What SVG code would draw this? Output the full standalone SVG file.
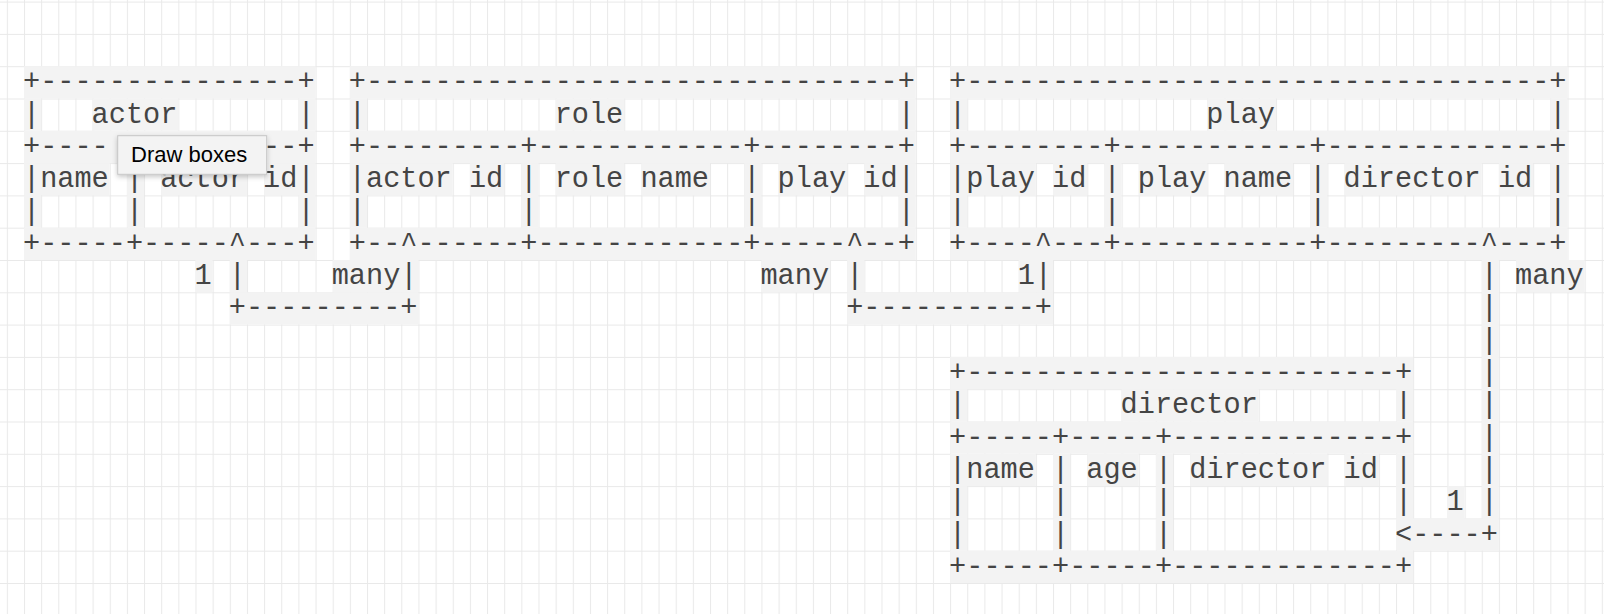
<svg xmlns="http://www.w3.org/2000/svg" width="1604" height="614" viewBox="0 0 1604 614">
<style>
.t{font-family:"Liberation Mono","Courier New",monospace;font-size:28.58px;fill:#444;white-space:pre}
.c{fill:#f3f3f3}
.tip{font-family:"Liberation Sans",Arial,sans-serif;font-size:22px;fill:#000}
</style>
<defs>
<pattern id="grid" patternUnits="userSpaceOnUse" x="24" y="66.2" width="17.15" height="32.3">
<path d="M0.5 0V32.3M0 0.5H17.15" stroke="#e9e9e9" stroke-width="1" fill="none"/>
</pattern>
<filter id="sh" x="-20%" y="-30%" width="140%" height="170%">
<feDropShadow dx="0" dy="2" stdDeviation="2.5" flood-color="#000" flood-opacity="0.22"/>
</filter>
</defs>
<rect width="1604" height="614" fill="#fff"/>
<rect width="1604" height="614" fill="url(#grid)"/>

<g id="actor">
<g class="c" transform="translate(24 66.2) scale(17.15 32.3)">
<rect x="0" y="0" width="17" height="1"/>
<rect x="0" y="1" width="1" height="1"/><rect x="4" y="1" width="5" height="1"/><rect x="16" y="1" width="1" height="1"/>
<rect x="0" y="2" width="17" height="1"/>
<rect x="0" y="3" width="5" height="1"/><rect x="6" y="3" width="1" height="1"/><rect x="8" y="3" width="5" height="1"/><rect x="14" y="3" width="3" height="1"/>
<rect x="0" y="4" width="1" height="1"/><rect x="6" y="4" width="1" height="1"/><rect x="16" y="4" width="1" height="1"/>
<rect x="0" y="5" width="17" height="1"/>
</g>
<text class="t" x="23" y="90.35" xml:space="preserve">+---------------+</text>
<text class="t" x="23" y="122.65" xml:space="preserve">|   actor       |</text>
<text class="t" x="23" y="154.95" xml:space="preserve">+----</text>
<text class="t" x="263.1" y="154.95" xml:space="preserve">--+</text>
<text class="t" x="23" y="187.25" xml:space="preserve">|name | actor id|</text>
<text class="t" x="23" y="219.55" xml:space="preserve">|     |         |</text>
<text class="t" x="23" y="251.85" xml:space="preserve">+-----+-----^---+</text>
</g>

<g id="role">
<g class="c" transform="translate(24 66.2) scale(17.15 32.3)">
<rect x="19" y="0" width="33" height="1"/>
<rect x="19" y="1" width="1" height="1"/><rect x="31" y="1" width="4" height="1"/><rect x="51" y="1" width="1" height="1"/>
<rect x="19" y="2" width="33" height="1"/>
<rect x="19" y="3" width="6" height="1"/><rect x="26" y="3" width="2" height="1"/><rect x="29" y="3" width="1" height="1"/><rect x="31" y="3" width="4" height="1"/><rect x="36" y="3" width="4" height="1"/><rect x="42" y="3" width="1" height="1"/><rect x="44" y="3" width="4" height="1"/><rect x="49" y="3" width="3" height="1"/>
<rect x="19" y="4" width="1" height="1"/><rect x="29" y="4" width="1" height="1"/><rect x="42" y="4" width="1" height="1"/><rect x="51" y="4" width="1" height="1"/>
<rect x="19" y="5" width="33" height="1"/>
</g>
<text class="t" x="348.85" y="90.35" xml:space="preserve">+-------------------------------+</text>
<text class="t" x="348.85" y="122.65" xml:space="preserve">|           role                |</text>
<text class="t" x="348.85" y="154.95" xml:space="preserve">+---------+------------+--------+</text>
<text class="t" x="348.85" y="187.25" xml:space="preserve">|actor id | role name  | play id|</text>
<text class="t" x="348.85" y="219.55" xml:space="preserve">|         |            |        |</text>
<text class="t" x="348.85" y="251.85" xml:space="preserve">+--^------+------------+-----^--+</text>
</g>

<g id="play">
<g class="c" transform="translate(24 66.2) scale(17.15 32.3)">
<rect x="54" y="0" width="36" height="1"/>
<rect x="54" y="1" width="1" height="1"/><rect x="69" y="1" width="4" height="1"/><rect x="89" y="1" width="1" height="1"/>
<rect x="54" y="2" width="36" height="1"/>
<rect x="54" y="3" width="5" height="1"/><rect x="60" y="3" width="2" height="1"/><rect x="63" y="3" width="1" height="1"/><rect x="65" y="3" width="4" height="1"/><rect x="70" y="3" width="4" height="1"/><rect x="75" y="3" width="1" height="1"/><rect x="77" y="3" width="8" height="1"/><rect x="86" y="3" width="2" height="1"/><rect x="89" y="3" width="1" height="1"/>
<rect x="54" y="4" width="1" height="1"/><rect x="63" y="4" width="1" height="1"/><rect x="75" y="4" width="1" height="1"/><rect x="89" y="4" width="1" height="1"/>
<rect x="54" y="5" width="36" height="1"/>
</g>
<text class="t" x="949.1" y="90.35" xml:space="preserve">+----------------------------------+</text>
<text class="t" x="949.1" y="122.65" xml:space="preserve">|              play                |</text>
<text class="t" x="949.1" y="154.95" xml:space="preserve">+--------+-----------+-------------+</text>
<text class="t" x="949.1" y="187.25" xml:space="preserve">|play id | play name | director id |</text>
<text class="t" x="949.1" y="219.55" xml:space="preserve">|        |           |             |</text>
<text class="t" x="949.1" y="251.85" xml:space="preserve">+----^---+-----------+---------^---+</text>
</g>

<g id="director">
<g class="c" transform="translate(24 66.2) scale(17.15 32.3)">
<rect x="54" y="9" width="27" height="1"/>
<rect x="54" y="10" width="1" height="1"/><rect x="64" y="10" width="8" height="1"/><rect x="80" y="10" width="1" height="1"/>
<rect x="54" y="11" width="27" height="1"/>
<rect x="54" y="12" width="5" height="1"/><rect x="60" y="12" width="1" height="1"/><rect x="62" y="12" width="3" height="1"/><rect x="66" y="12" width="1" height="1"/><rect x="68" y="12" width="8" height="1"/><rect x="77" y="12" width="2" height="1"/><rect x="80" y="12" width="1" height="1"/>
<rect x="54" y="13" width="1" height="1"/><rect x="60" y="13" width="1" height="1"/><rect x="66" y="13" width="1" height="1"/><rect x="80" y="13" width="1" height="1"/>
<rect x="54" y="14" width="1" height="1"/><rect x="60" y="14" width="1" height="1"/><rect x="66" y="14" width="1" height="1"/>
<rect x="54" y="15" width="27" height="1"/>
</g>
<text class="t" x="949.1" y="381.05" xml:space="preserve">+-------------------------+</text>
<text class="t" x="949.1" y="413.35" xml:space="preserve">|         director        |</text>
<text class="t" x="949.1" y="445.65" xml:space="preserve">+-----+-----+-------------+</text>
<text class="t" x="949.1" y="477.95" xml:space="preserve">|name | age | director id |</text>
<text class="t" x="949.1" y="510.25" xml:space="preserve">|     |     |             |</text>
<text class="t" x="949.1" y="542.55" xml:space="preserve">|     |     |</text>
<text class="t" x="949.1" y="574.85" xml:space="preserve">+-----+-----+-------------+</text>
</g>

<g id="connectors">
<g class="c" transform="translate(24 66.2) scale(17.15 32.3)">
<rect x="10" y="6" width="1" height="1"/><rect x="12" y="6" width="1" height="1"/><rect x="18" y="6" width="5" height="1"/><rect x="43" y="6" width="4" height="1"/><rect x="48" y="6" width="1" height="1"/><rect x="58" y="6" width="2" height="1"/><rect x="87" y="6" width="4" height="1"/>
<rect x="12" y="7" width="11" height="1"/><rect x="48" y="7" width="12" height="1"/>
<rect x="85" y="6" width="1" height="8"/>
<rect x="83" y="13" width="1" height="1"/>
<rect x="80" y="14" width="6" height="1"/>
</g>
<text class="t" x="194.5" y="284.15" xml:space="preserve">1 |</text>
<text class="t" x="331.7" y="284.15" xml:space="preserve">many|</text>
<text class="t" x="760.45" y="284.15" xml:space="preserve">many |</text>
<text class="t" x="1017.7" y="284.15" xml:space="preserve">1|</text>
<text class="t" x="1480.75" y="284.15" xml:space="preserve">| many</text>
<text class="t" x="228.8" y="316.45" xml:space="preserve">+---------+</text>
<text class="t" x="846.2" y="316.45" xml:space="preserve">+----------+</text>
<text class="t" x="1480.75" y="316.45">|</text>
<text class="t" x="1480.75" y="348.75">|</text>
<text class="t" x="1480.75" y="381.05">|</text>
<text class="t" x="1480.75" y="413.35">|</text>
<text class="t" x="1480.75" y="445.65">|</text>
<text class="t" x="1480.75" y="477.95">|</text>
<text class="t" x="1446.45" y="510.25" xml:space="preserve">1 |</text>
<text class="t" x="1395" y="542.55" xml:space="preserve">&lt;----+</text>
</g>

<g id="tooltip">
<rect x="117.7" y="135.7" width="149" height="38.6" fill="#f3f3f3" stroke="#c6c6c6" stroke-width="1" filter="url(#sh)"/>
<text class="tip" x="131" y="162">Draw boxes</text>
</g>
</svg>
